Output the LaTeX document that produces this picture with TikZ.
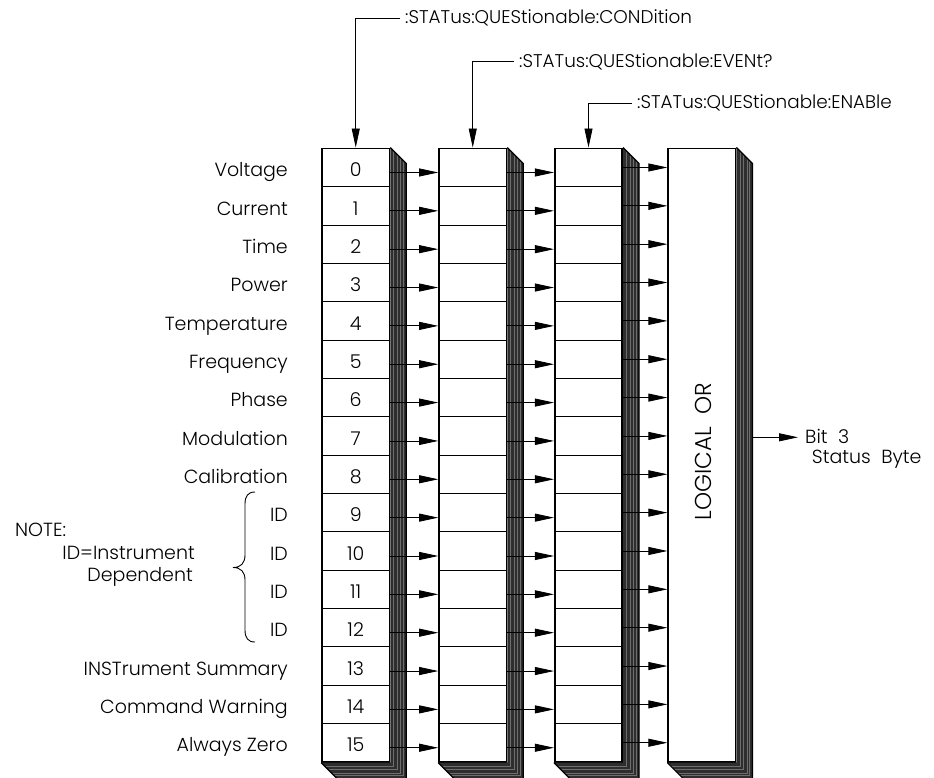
\documentclass[tikz,border=0pt]{standalone}
\usepackage{fontspec}
\IfFontExistsTF{Poppins Light}{\setmainfont{Poppins Light}}{\setmainfont{Poppins}}
\usetikzlibrary{arrows.meta,calc}
\definecolor{shad}{HTML}{2E2E2E}
\definecolor{stripecol}{HTML}{6E6E6E}
\newcommand\regshadow[1]{%
  \fill[shad] (#1.north east) -- ++(16,16) -- ($(#1.south east)+(16,16)$) -- ($(#1.south west)+(16,16)$) -- (#1.south west) -- (#1.south east) -- cycle;
  \foreach \d in {3.5,7,10.5,13} \draw[stripecol, line width=0.7pt] ($(#1.north east)+(\d,\d)$) -- ($(#1.south east)+(\d,\d)$) -- ($(#1.south west)+(\d,\d)$);
  \draw[line width=1.2pt] (#1.north east) -- ++(16,16) -- ($(#1.south east)+(16,16)$) -- ($(#1.south west)+(16,16)$) -- (#1.south west);
}
\begin{document}
\begin{tikzpicture}[x=1pt,y=-1pt,
  arr/.style={-{Triangle[length=19pt,width=8pt]}, line width=0.8pt},
  reg/.style={draw, line width=1.6pt, minimum width=67.5pt, minimum height=613.6pt, inner sep=0pt, fill=white},
  rowline/.style={line width=0.9pt},
  lbl/.style={font=\fontsize{19}{22}\selectfont, inner sep=0pt},
  toplbl/.style={font=\fontsize{18.4}{21}\selectfont, inner xsep=5pt, inner ysep=0pt}]
\useasboundingbox (0,0) rectangle (934,777);

% registers
\node[reg] (c)   at (355.75,455.1) {};
\node[reg] (e)   at (472.75,455.1) {};
\node[reg] (en)  at (588.5,455.1) {};
\node[reg] (lor) at (701.9,455.1) {};
\regshadow{c}
\regshadow{e}
\regshadow{en}
\regshadow{lor}

% row lines
\foreach \k in {1,...,15} {
  \coordinate (h\k) at (0,{148.3+38.35*\k});
  \draw[rowline] (c.west |- h\k) -- (c.east |- h\k);
  \draw[rowline] (e.west |- h\k) -- (e.east |- h\k);
  \draw[rowline] (en.west |- h\k) -- (en.east |- h\k);
}
% arrows and bit numbers
\foreach \k in {0,...,15} {
  \coordinate (a\k) at (0,{148.3+38.35*\k+19.175+5});
  \coordinate (m\k) at (0,{148.3+38.35*\k+19.175});
  \draw[arr] (c.east |- a\k) -- (e.west |- a\k);
  \draw[arr] (e.east |- a\k) -- (en.west |- a\k);
  \draw[arr] (en.east |- m\k) -- (lor.west |- m\k);
  \node[lbl, anchor=base] (n\k) at (355.7,{148.3+38.35*\k+19.175+9.2}) {\k};
}

% left labels
\foreach \k/\t in {0/Voltage,1/Current,2/Time,3/Power,4/Temperature,5/Frequency,6/Phase,7/Modulation,8/Calibration,9/ID,10/ID,11/ID,12/ID,13/INSTrument Summary,14/Command Warning,15/Always Zero}
  \node[lbl, anchor=base east] (L\k) at (288,{148.3+38.35*\k+19.175+9.2}) {\t};

% note and brace
\node[lbl, anchor=base west] (note1) at (15,536) {NOTE:};
\node[lbl, anchor=base east] (note2) at (195,559.5) {ID=Instrument};
\node[lbl, anchor=base east] (note3) at (193,581) {Dependent};
\draw[line width=0.9pt] (255,492) .. controls (248,492) and (245,496) .. (245,504) -- (245,555)
  .. controls (245,563) and (241,567.5) .. (233,567.5)
  .. controls (241,567.5) and (245,572) .. (245,580) -- (245,630)
  .. controls (245,638) and (248,642) .. (255,642);

% top labels
\node[toplbl, anchor=west] (q1) at (400,18.3) {:STATus:QUEStionable:CONDition};
\node[toplbl, anchor=west] (q2) at (514,61.7) {:STATus:QUEStionable:EVENt?};
\node[toplbl, anchor=west] (q3) at (632,103.3) {:STATus:QUEStionable:ENABle};
\draw[arr] (q1.west) -| (c.north);
\draw[arr] (q2.west) -| (e.north);
\draw[arr] (q3.west) -| (en.north);

% logical or
\node[font=\fontsize{23}{26}\selectfont, rotate=90, inner sep=0pt] (ortext) at (703.3,451.7) {LOGICAL\ \ OR};
\coordinate (orout) at (752,437.3);
\coordinate (bitin) at (798,437.3);
\draw[arr] (orout) -- (bitin);
\node[lbl, anchor=base west] (bit) at (805,443.5) {Bit\ \ 3};
\node[lbl, anchor=base west] (sb) at (811.7,463.5) {Status\ \ Byte};
\end{tikzpicture}
\end{document}
